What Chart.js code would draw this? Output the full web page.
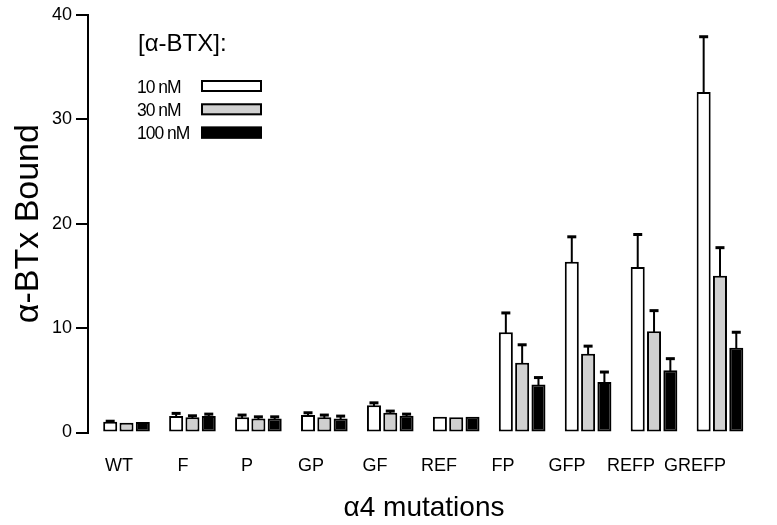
<!DOCTYPE html>
<html>
<head>
<meta charset="utf-8">
<script src="https://cdn.jsdelivr.net/npm/chart.js@4.4.1/dist/chart.umd.min.js"></script>
<style>
  html, body { margin: 0; padding: 0; background: #fff; }
  #wrap { width: 777px; height: 525px; }
</style>
</head>
<body>
<div id="wrap"><canvas id="chart"></canvas></div>
<script>
// alpha4 mutation constructs
const mutations = ["WT", "F", "P", "GP", "GF", "REF", "FP", "GFP", "REFP", "GREFP"];
const concLabels = ["10 nM", "30 nM", "100 nM"];

// mean alpha-BTx bound per concentration
const bound10 = [1.03, 1.57, 1.45, 1.67, 2.62, 1.5, 9.6, 16.36, 15.86, 32.6];
const bound30 = [0.93, 1.45, 1.35, 1.45, 1.89, 1.45, 6.69, 7.54, 9.7, 15.0];
const bound100 = [1.0, 1.57, 1.35, 1.35, 1.6, 1.5, 4.59, 4.84, 5.95, 8.11];

// upper error bars
const err10 = [0.05, 0.26, 0.22, 0.22, 0.22, 0, 1.85, 2.38, 3.1, 5.3];
const err30 = [0, 0.15, 0.15, 0.22, 0.16, 0, 1.71, 0.73, 1.97, 2.7];
const err100 = [0, 0.19, 0.15, 0.22, 0.16, 0, 0.67, 0.95, 1.12, 1.49];

const yTicks = [0, 10, 20, 30, 40];

const FONT = "'Liberation Sans', Arial, Helvetica, sans-serif";

function toPoints(arr) {
  return arr.map((v, i) => ({ x: i, y: v }));
}

// error bars drawn on top of the bars
const errorBars = {
  id: "errorBars",
  afterDatasetsDraw(chart) {
    const ctx = chart.ctx;
    const yScale = chart.scales.y;
    ctx.save();
    ctx.strokeStyle = "#000";
    chart.data.datasets.forEach((ds, di) => {
      const meta = chart.getDatasetMeta(di);
      meta.data.forEach((bar, i) => {
        const err = ds.errors[i];
        if (!err) return;
        const top = yScale.getPixelForValue(ds.data[i].y + err);
        ctx.lineWidth = 2;
        ctx.beginPath();
        ctx.moveTo(bar.x, bar.y + 1);
        ctx.lineTo(bar.x, top);
        ctx.stroke();
        ctx.lineWidth = 3;
        ctx.beginPath();
        ctx.moveTo(bar.x - 4.5, top);
        ctx.lineTo(bar.x + 4.5, top);
        ctx.stroke();
      });
    });
    ctx.restore();
  },
};

// legend: text on the left, long box on the right
const concLegend = {
  id: "concLegend",
  afterDraw(chart) {
    const ctx = chart.ctx;
    ctx.save();
    ctx.fillStyle = "#000";
    ctx.textBaseline = "alphabetic";
    ctx.textAlign = "left";
    ctx.font = "24px " + FONT;
    ctx.fillText("[\u03b1-BTX]:", 138, 51);
    ctx.font = "17.5px " + FONT;
    ctx.letterSpacing = "-1px";
    chart.data.datasets.forEach((ds, i) => {
      const top = 80 + i * 23.3;
      ctx.fillStyle = "#000";
      ctx.fillText(ds.label, 137, top + 12.5);
      ctx.fillStyle = ds.backgroundColor;
      ctx.fillRect(201, top, 61, 12);
      ctx.lineWidth = 2;
      ctx.strokeStyle = "#000";
      ctx.strokeRect(202, top + 1, 59, 10);
    });
    ctx.restore();
  },
};

const barStyle = {
  borderColor: "#000",
  borderWidth: 2,
  borderSkipped: false,
  categoryPercentage: 0.742,
  barPercentage: 0.86,
  xAxisID: "x",
};

new Chart(document.getElementById("chart"), {
  type: "bar",
  data: {
    datasets: [
      { label: concLabels[0], data: toPoints(bound10), errors: err10, backgroundColor: "#ffffff", ...barStyle },
      { label: concLabels[1], data: toPoints(bound30), errors: err30, backgroundColor: "#d0d0d0", ...barStyle },
      { label: concLabels[2], data: toPoints(bound100), errors: err100, backgroundColor: "#000000", ...barStyle },
    ],
  },
  options: {
    responsive: true,
    maintainAspectRatio: false,
    animation: false,
    layout: { padding: { top: 12, right: 17, bottom: 0, left: 0 } },
    plugins: {
      legend: { display: false },
      tooltip: { enabled: false },
    },
    scales: {
      x: {
        type: "linear",
        display: false,
        min: -0.584,
        max: 9.607,
        offset: false,
      },
      xl: {
        type: "linear",
        position: "bottom",
        min: -0.484,
        max: 10.016,
        offset: false,
        afterBuildTicks: (s) => {
          s.ticks = mutations.map((m, i) => ({ value: i }));
          s.min = -0.484;
          s.max = 10.016;
        },
        afterFit: (s) => {
          s.height = 92.5;
        },
        border: { display: false },
        grid: { display: false, drawTicks: false, offset: false },
        ticks: {
          color: "#000",
          font: { family: FONT, size: 18 },
          padding: 23,
          maxRotation: 0,
          autoSkip: false,
          callback: (v) => mutations[v],
        },
        title: {
          display: true,
          text: "\u03b14 mutations",
          color: "#000",
          font: { family: FONT, size: 28 },
          padding: 0,
        },
      },
      y: {
        min: 0,
        max: 40,
        afterBuildTicks: (s) => {
          s.ticks = yTicks.map((v) => ({ value: v }));
        },
        afterFit: (s) => {
          s.width = 88;
        },
        border: { display: true, color: "#000", width: 2 },
        grid: {
          display: true,
          drawOnChartArea: false,
          drawTicks: true,
          tickLength: 12,
          color: "#000",
          lineWidth: 2,
        },
        ticks: {
          color: "#000",
          font: { family: FONT, size: 18 },
          padding: 4,
        },
        title: {
          display: true,
          text: "\u03b1-BTx Bound",
          color: "#000",
          font: { family: FONT, size: 34 },
          padding: { top: 8, bottom: 0 },
        },
      },
    },
  },
  plugins: [errorBars, concLegend],
});
</script>
</body>
</html>
